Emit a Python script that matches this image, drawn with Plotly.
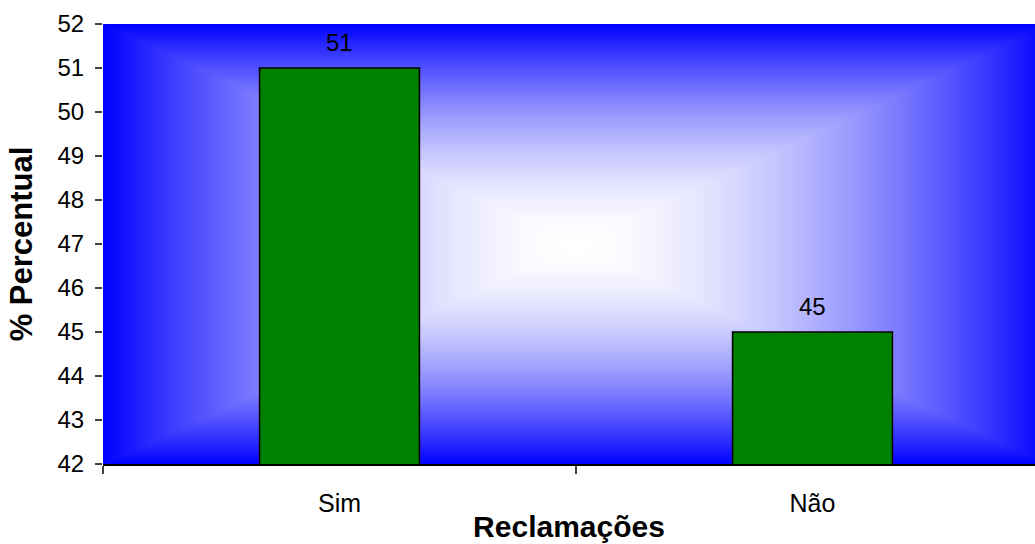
import numpy as np
import plotly.graph_objects as go

# Data
categories = ["Sim", "Não"]
values = [51, 45]
y_ticks = list(range(42, 53))

# Plot geometry (pixels)
W, H = 1035, 544
M_L, M_R, M_T, M_B = 103, 0, 24, 80
plot_w = W - M_L - M_R
plot_h = H - M_T - M_B
cat_px = 473  # width of one category band in pixels

# Rectangular "from centre" gradient for the plot background
full_w = 2 * cat_px
gx = np.linspace(0, full_w, 240)
gy = np.linspace(0, plot_h, 120)
dx = np.abs(gx - full_w / 2) / (full_w / 2)
dy = np.abs(gy - plot_h / 2) / (plot_h / 2)
grad = np.maximum(dx[None, :], dy[:, None]) ** 1.7

FONT = "Liberation Sans, Arial, sans-serif"

fig = go.Figure()

fig.add_trace(go.Heatmap(
    x=gx, y=gy, z=grad,
    colorscale=[[0, "#FFFFFF"], [1, "#0000FF"]],
    zmin=0, zmax=1, zsmooth="best", showscale=False,
    hoverinfo="skip", xaxis="x", yaxis="y",
))

fig.add_trace(go.Bar(
    x=categories, y=values,
    width=0.338,
    marker=dict(color="#008000", line=dict(color="#000000", width=1.5)),
    xaxis="x2", yaxis="y2",
    hoverinfo="skip",
))

x_hi = -0.5 + plot_w / cat_px

annotations = [
    dict(x=c, y=v, xref="x2", yref="y2", text=str(v), showarrow=False,
         yanchor="bottom", yshift=10,
         font=dict(family=FONT, size=24, color="#000000"))
    for c, v in zip(categories, values)
]

fig.update_layout(
    width=W, height=H,
    margin=dict(l=M_L, r=M_R, t=M_T, b=M_B, pad=0),
    paper_bgcolor="#FFFFFF", plot_bgcolor="#FFFFFF",
    showlegend=False,
    xaxis=dict(range=[0, plot_w], visible=False, fixedrange=True),
    yaxis=dict(range=[0, plot_h], visible=False, fixedrange=True),
    xaxis2=dict(
        overlaying="x", anchor="y2", side="bottom",
        type="category", range=[-0.5, x_hi],
        showline=True, linecolor="#000000", linewidth=2,
        ticks="outside", ticklen=8, tickcolor="#404040", tickwidth=1.5,
        tickson="boundaries", showgrid=False, zeroline=False,
        tickfont=dict(family=FONT, size=25, color="#000000"),
        ticklabelstandoff=16,
        title=dict(text="<b>Reclamações</b>", font=dict(family=FONT, size=30, color="#000000"),
                   standoff=0),
    ),
    yaxis2=dict(
        overlaying="y", anchor="x2", side="left",
        range=[42, 52], tickvals=y_ticks, ticktext=[str(t) for t in y_ticks],
        showline=False,
        ticks="outside", ticklen=7, tickcolor="#404040", tickwidth=1.5,
        showgrid=False, zeroline=False,
        tickfont=dict(family=FONT, size=24, color="#000000"),
        ticklabelstandoff=6,
        title=dict(text="<b>% Percentual</b>", font=dict(family=FONT, size=31, color="#000000"),
                   standoff=15),
    ),
    annotations=annotations,
)

fig.write_html("out.html")
